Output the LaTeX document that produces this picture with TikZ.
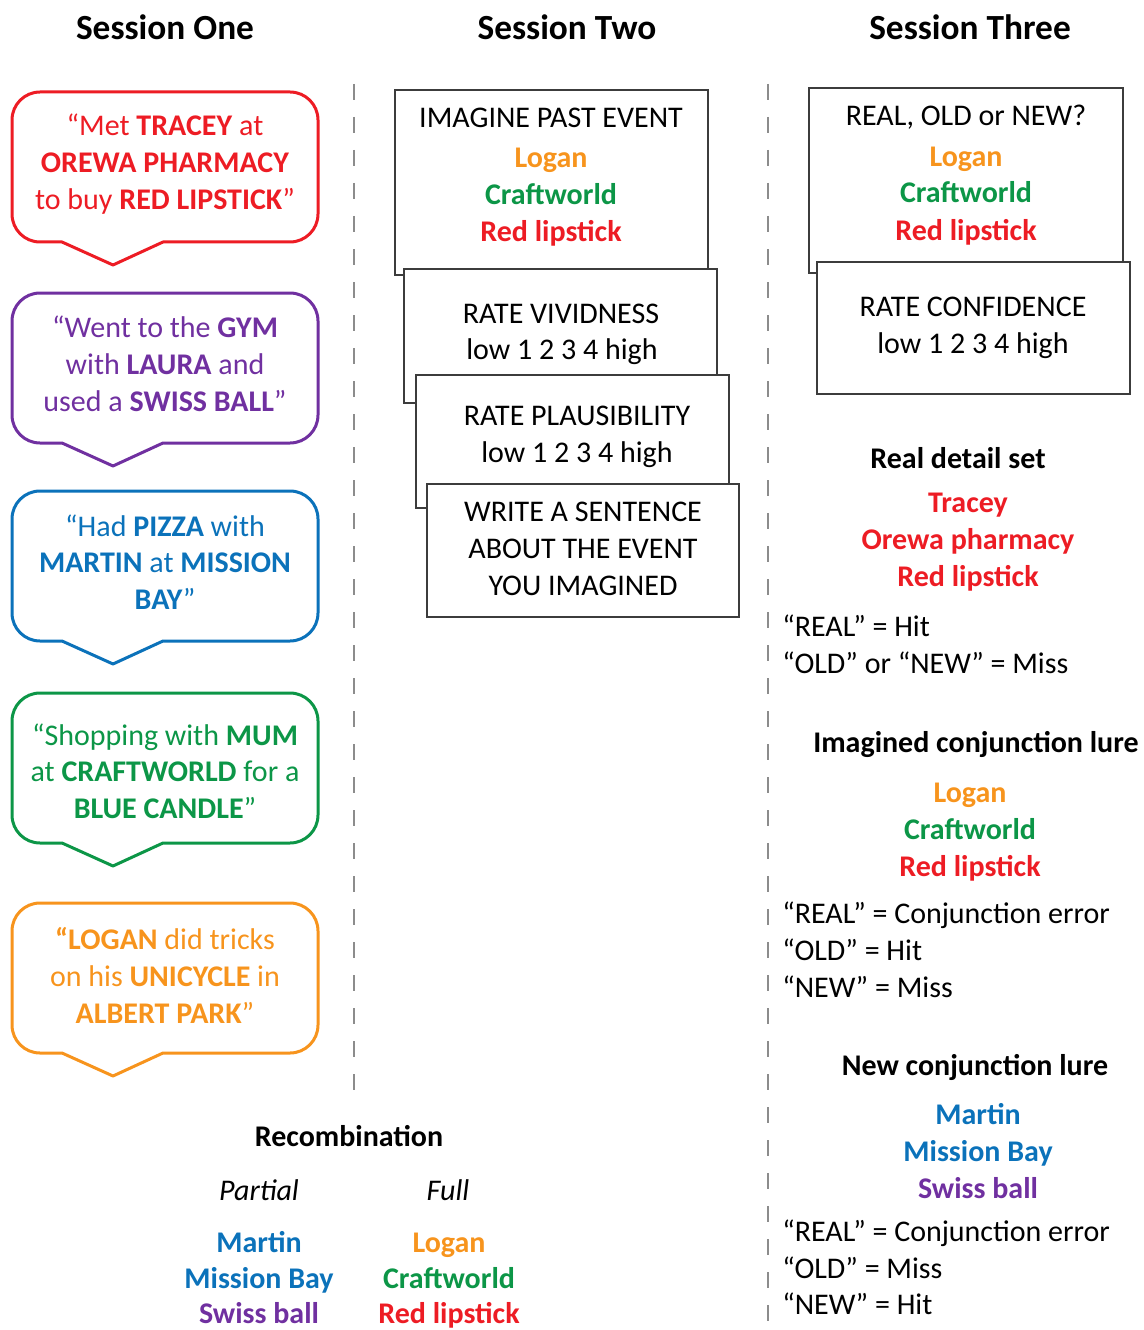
\documentclass[tikz,border=0pt]{standalone}
\usepackage{fontspec}
\setmainfont{Carlito}
\definecolor{cred}{HTML}{ED1C24}
\definecolor{corange}{HTML}{F7941D}
\definecolor{cgreen}{HTML}{0C9647}
\definecolor{cblue}{HTML}{0B72BA}
\definecolor{cpurple}{HTML}{7030A0}
\definecolor{rulegray}{HTML}{8C8C8C}
\definecolor{framegray}{HTML}{3C3C3C}
\newcommand\bodysize{\fontsize{22.5}{27}\selectfont}
\newcommand\titlesize{\fontsize{26.5}{32}\selectfont\bfseries}
% speech bubble: colour, top edge (px)
\newcommand\speechbubble[2]{%
  \draw[bubbleline, draw=#1] (62,#2+150) -- (40,#2+150)
    arc[start angle=270, end angle=180, radius=21pt] -- (12,#2+28)
    arc[start angle=180, end angle=90, radius=21pt] -- (290,#2)
    arc[start angle=90, end angle=0, radius=21pt] -- (318,#2+122)
    arc[start angle=0, end angle=-90, radius=21pt] -- (163,#2+150)
    -- (113,#2+173) -- cycle;}
\begin{document}
\begin{tikzpicture}[x=0.75pt, y=-0.75pt,
  t/.style={inner sep=0pt, anchor=base, font=\bodysize},
  tl/.style={t, anchor=base west},
  hd/.style={t, font=\bodysize\bfseries},
  title/.style={inner sep=0pt, anchor=base, font=\titlesize},
  kw/.style={t, font=\bodysize\bfseries, text=#1},
  bubbleline/.style={line width=2.25pt, line join=round},
  card/.style={draw=framegray, line width=1.1pt, fill=white},
  divider/.style={draw=rulegray, line width=1.2pt, dash pattern=on 12pt off 12.75pt}]
\useasboundingbox (0,0) rectangle (1144,1330);

% column headings
\node[title] (s1) at (165,40) {Session One};
\node[title] (s2) at (567,40) {Session Two};
\node[title] (s3) at (970,40) {Session Three};

% column dividers
\draw[divider] (354,84) -- (354,1100);
\draw[divider] (768,84) -- (768,1330);

% Session one: encoded events
\speechbubble{cred}{92}
\node[t, text=cred] (e1a) at (165,136) {“Met \textbf{TRACEY} at};
\node[t, text=cred] (e1b) at (165,173) {\textbf{OREWA PHARMACY}};
\node[t, text=cred] (e1c) at (165,210) {to buy \textbf{RED LIPSTICK}”};

\speechbubble{cpurple}{293}
\node[t, text=cpurple] (e2a) at (165,337) {“Went to the \textbf{GYM}};
\node[t, text=cpurple] (e2b) at (165,374) {with \textbf{LAURA} and};
\node[t, text=cpurple] (e2c) at (165,411) {used a \textbf{SWISS BALL}”};

\speechbubble{cblue}{491}
\node[t, text=cblue] (e3a) at (165,536) {“Had \textbf{PIZZA} with};
\node[t, text=cblue] (e3b) at (165,572) {\textbf{MARTIN} at \textbf{MISSION}};
\node[t, text=cblue] (e3c) at (165,609) {\textbf{BAY}”};

\speechbubble{cgreen}{693}
\node[t, text=cgreen] (e4a) at (165,745) {“Shopping with \textbf{MUM}};
\node[t, text=cgreen] (e4b) at (165,781) {at \textbf{CRAFTWORLD} for a};
\node[t, text=cgreen] (e4c) at (165,818) {\textbf{BLUE CANDLE}”};

\speechbubble{corange}{903}
\node[t, text=corange] (e5a) at (165,949) {\textbf{“LOGAN} did tricks};
\node[t, text=corange] (e5b) at (165,986) {on his \textbf{UNICYCLE} in};
\node[t, text=corange] (e5c) at (165,1023) {\textbf{ALBERT PARK}”};

% Session two: imagination trial cards
\draw[card] (395,90) rectangle (708,275);
\node[t] (ia) at (551,128) {IMAGINE PAST EVENT};
\node[kw=corange] (ib) at (551,168) {Logan};
\node[kw=cgreen] (ic) at (551,205) {Craftworld};
\node[kw=cred] (id) at (551,242) {Red lipstick};

\draw[card] (404,269) rectangle (717,403);
\node[t] (va) at (561,323) {RATE VIVIDNESS};
\node[t] (vb) at (562,359) {low 1 2 3 4 high};

\draw[card] (416,375) rectangle (729,508);
\node[t] (pa) at (577,425) {RATE PLAUSIBILITY};
\node[t] (pb) at (577,462) {low 1 2 3 4 high};

\draw[card] (427,484) rectangle (739,617);
\node[t] (wa) at (583,521) {WRITE A SENTENCE};
\node[t] (wb) at (583,558) {ABOUT THE EVENT};
\node[t] (wc) at (583,595) {YOU IMAGINED};

% recombination types
\node[hd] (rc) at (349,1146) {Recombination};
\node[t, font=\bodysize\itshape] (rp) at (259,1200) {Partial};
\node[t, font=\bodysize\itshape] (rf) at (448,1200) {Full};
\node[kw=cblue] (rp1) at (259,1252) {Martin};
\node[kw=cblue] (rp2) at (259,1288) {Mission Bay};
\node[kw=cpurple] (rp3) at (259,1323) {Swiss ball};
\node[kw=corange] (rf1) at (449,1252) {Logan};
\node[kw=cgreen] (rf2) at (449,1288) {Craftworld};
\node[kw=cred] (rf3) at (449,1323) {Red lipstick};

% Session three: recognition test cards
\draw[card] (809,88) rectangle (1123,273);
\node[t] (qa) at (966,126) {REAL, OLD or NEW?};
\node[kw=corange] (qb) at (966,167) {Logan};
\node[kw=cgreen] (qc) at (966,203) {Craftworld};
\node[kw=cred] (qd) at (966,240) {Red lipstick};

\draw[card] (817,262) rectangle (1130,394);
\node[t] (ca) at (973,316) {RATE CONFIDENCE};
\node[t] (cb) at (973,353) {low 1 2 3 4 high};

% scoring of each item type
\node[hd] (rd) at (958,468) {Real detail set};
\node[kw=cred] (rd1) at (968,512) {Tracey};
\node[kw=cred] (rd2) at (968,549) {Orewa pharmacy};
\node[kw=cred] (rd3) at (968,586) {Red lipstick};
\node[tl] (rds1) at (782,636) {“REAL” = Hit};
\node[tl] (rds2) at (782,673) {“OLD” or “NEW” = Miss};

\node[hd] (ic0) at (976,752) {Imagined conjunction lure};
\node[kw=corange] (ic1) at (970,802) {Logan};
\node[kw=cgreen] (ic2) at (970,839) {Craftworld};
\node[kw=cred] (ic3) at (970,876) {Red lipstick};
\node[tl] (ics1) at (782,923) {“REAL” = Conjunction error};
\node[tl] (ics2) at (782,960) {“OLD” = Hit};
\node[tl] (ics3) at (782,997) {“NEW” = Miss};

\node[hd] (nc0) at (975,1075) {New conjunction lure};
\node[kw=cblue] (nc1) at (978,1124) {Martin};
\node[kw=cblue] (nc2) at (978,1161) {Mission Bay};
\node[kw=cpurple] (nc3) at (978,1198) {Swiss ball};
\node[tl] (ncs1) at (782,1241) {“REAL” = Conjunction error};
\node[tl] (ncs2) at (782,1278) {“OLD” = Miss};
\node[tl] (ncs3) at (782,1314) {“NEW” = Hit};
\end{tikzpicture}
\end{document}
